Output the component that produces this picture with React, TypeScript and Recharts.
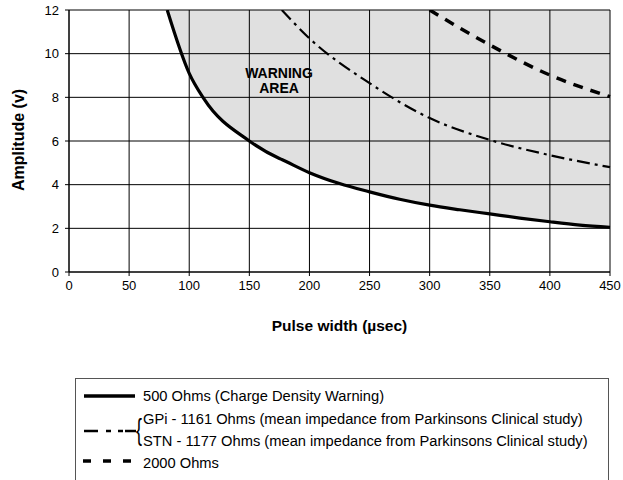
import { Area, CartesianGrid, ComposedChart, Customized, Label, Line, XAxis, YAxis } from "recharts";

// pulse width (µsec) sample points
const PULSE_WIDTH = [81.7, 100, 112, 150, 175, 177, 200, 225, 250, 275, 300, 325, 350, 375, 400, 425, 450];
// amplitude (v) at each pulse width, null where the curve is off the chart
const OHMS_500 = [12, 9.1, 7.95, 6.0, 5.2, 5.15, 4.55, 4.05, 3.67, 3.33, 3.06, 2.85, 2.66, 2.47, 2.3, 2.15, 2.05];
const OHMS_1161 = [null, null, null, null, null, 12, 10.7, null, 8.65, null, 7.05, null, 6.05, null, 5.35, null, 4.8];
const OHMS_2000 = [null, null, null, null, null, null, null, null, null, null, 12, null, 10.4, null, 9.02, null, 8.03];

const X_TICKS = [0, 50, 100, 150, 200, 250, 300, 350, 400, 450];
const Y_TICKS = [0, 2, 4, 6, 8, 10, 12];
const Y_MAX = 12;

const LEGEND_ITEMS = [
  "500 Ohms (Charge Density Warning)",
  "GPi - 1161 Ohms (mean impedance from Parkinsons Clinical study)",
  "STN - 1177 Ohms (mean impedance from Parkinsons Clinical study)",
  "2000 Ohms",
];

const FONT = "'Liberation Sans', Arial, sans-serif";
const DASH_DOT = "13 5 3 5";
const DASHED = "10 8";

const data = PULSE_WIDTH.map((pw, i) => ({
  pw,
  low: OHMS_500[i],
  mid: OHMS_1161[i],
  high: OHMS_2000[i],
  warn: [OHMS_500[i], Y_MAX],
}));

const tickStyle = { fontSize: 13, fill: "#000", fontFamily: FONT };
const titleStyle = { fontSize: 15.5, fontWeight: "bold", fill: "#000", fontFamily: FONT };

function WarningText() {
  return (
    <text textAnchor="middle" fontFamily={FONT} fontSize={14} fontWeight="bold" fill="#000">
      <tspan x={279} y={78}>WARNING</tspan>
      <tspan x={279} y={93}>AREA</tspan>
    </text>
  );
}

function LegendBox() {
  const rowY = [17, 40, 62, 84];
  return (
    <div
      style={{
        position: "absolute",
        left: 75,
        top: 378,
        width: 532,
        height: 110,
        border: "1px solid #555",
        background: "#fff",
        fontFamily: FONT,
        fontSize: 14.7,
      }}
    >
      <svg width={70} height={100} style={{ position: "absolute", left: 0, top: 0 }}>
        <line x1={8} x2={59} y1={rowY[0]} y2={rowY[0]} stroke="#000" strokeWidth={3.5} />
        <line x1={8} x2={60} y1={52} y2={52} stroke="#000" strokeWidth={2.5} strokeDasharray="14 8 5 7 5 2 13" />
        <text
          x={0}
          y={0}
          transform="translate(60 51) scale(0.6 1)"
          dominantBaseline="central"
          fontSize={30}
          fontFamily={FONT}
          fill="#000"
        >
          {"{"}
        </text>
        <line x1={7} x2={56} y1={82} y2={82} stroke="#000" strokeWidth={3.5} strokeDasharray="8 12 8 12 8" />
      </svg>
      {LEGEND_ITEMS.map((label, i) => (
        <div
          key={label}
          style={{
            position: "absolute",
            left: 67,
            top: rowY[i] - 9,
            lineHeight: "18px",
            whiteSpace: "nowrap",
            color: "#000",
          }}
        >
          {label}
        </div>
      ))}
    </div>
  );
}

export default function App() {
  return (
    <div style={{ position: "absolute", left: 0, top: 0, width: 623, height: 480, background: "#fff" }}>
      <ComposedChart
        width={623}
        height={340}
        data={data}
        margin={{ top: 10, right: 13, bottom: 0, left: 0 }}
      >
        <CartesianGrid stroke="#000" strokeWidth={1} />
        <XAxis
          dataKey="pw"
          type="number"
          domain={[0, 450]}
          ticks={X_TICKS}
          interval={0}
          height={68}
          tick={tickStyle}
          tickSize={4}
          tickMargin={5}
          stroke="#000"
        >
          <Label value="Pulse width (µsec)" position="insideBottom" offset={9} style={titleStyle} />
        </XAxis>
        <YAxis
          type="number"
          domain={[0, Y_MAX]}
          ticks={Y_TICKS}
          interval={0}
          width={69}
          tick={tickStyle}
          tickSize={4}
          tickMargin={6}
          stroke="#000"
          allowDataOverflow
        >
          <Label
            content={() => (
              <text
                x={18}
                y={140}
                transform="rotate(-90 18 140)"
                textAnchor="middle"
                dominantBaseline="central"
                style={{ ...titleStyle, fontSize: 16 }}
              >
                Amplitude (v)
              </text>
            )}
          />
        </YAxis>
        <Area
          dataKey="warn"
          type="monotone"
          stroke="none"
          fill="#000"
          fillOpacity={0.12}
          isAnimationActive={false}
        />
        <Line
          dataKey="mid"
          type="monotone"
          stroke="#000"
          strokeWidth={2.2}
          strokeDasharray={DASH_DOT}
          dot={false}
          connectNulls
          isAnimationActive={false}
        />
        <Line
          dataKey="high"
          type="monotone"
          stroke="#000"
          strokeWidth={3.5}
          strokeDasharray={DASHED}
          dot={false}
          connectNulls
          isAnimationActive={false}
        />
        <Line
          dataKey="low"
          type="monotone"
          stroke="#000"
          strokeWidth={3.2}
          dot={false}
          isAnimationActive={false}
        />
        <Customized component={WarningText} />
      </ComposedChart>
      <LegendBox />
    </div>
  );
}
